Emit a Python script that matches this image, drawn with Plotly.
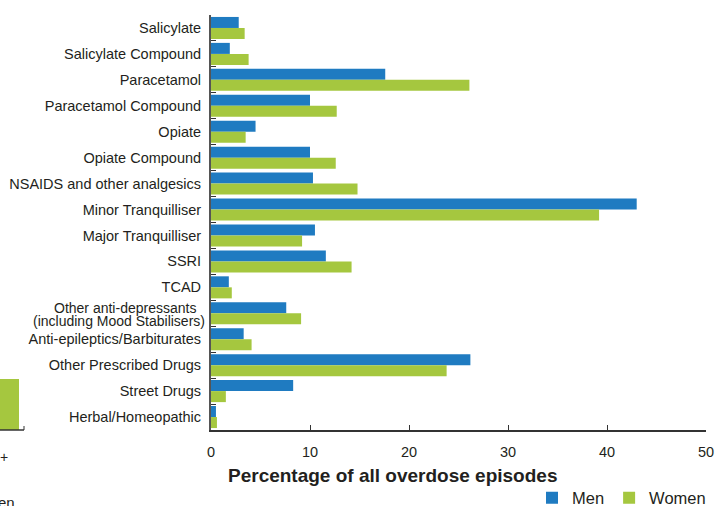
import plotly.graph_objects as go

# Overdose episodes by substance type, split by sex (% of all episodes)
categories = [
    "Salicylate",
    "Salicylate Compound",
    "Paracetamol",
    "Paracetamol Compound",
    "Opiate",
    "Opiate Compound",
    "NSAIDS and other analgesics",
    "Minor Tranquilliser",
    "Major Tranquilliser",
    "SSRI",
    "TCAD",
    "Other anti-depressants (including Mood Stabilisers)",
    "Anti-epileptics/Barbiturates",
    "Other Prescribed Drugs",
    "Street Drugs",
    "Herbal/Homeopathic",
]
men = [2.8, 1.9, 17.6, 10.0, 4.5, 10.0, 10.3, 43.0, 10.5, 11.6, 1.8, 7.6, 3.3, 26.2, 8.3, 0.5]
women = [3.4, 3.8, 26.1, 12.7, 3.5, 12.6, 14.8, 39.2, 9.2, 14.2, 2.1, 9.1, 4.1, 23.8, 1.5, 0.6]
x_ticks = [0, 10, 20, 30, 40, 50]

# the long category is written on two tightly spaced lines
WRAPPED = "Other anti-depressants (including Mood Stabilisers)"
wrapped_lines = ["Other anti-depressants", "(including Mood Stabilisers)"]
tick_text = ["" if c == WRAPPED else c for c in categories]

BLUE = "#1f7bc1"
GREEN = "#a5c73f"
TEXT = "#231f20"

W, H = 716, 506
ML, MR, MT, MB = 211, 10, 15, 76


def px_x(p):
    return (p - ML) / (W - ML - MR)


def px_y(p):
    return 1 - (p - MT) / (H - MT - MB)


fig = go.Figure()
fig.add_trace(go.Bar(y=categories, x=men, name="Men", orientation="h",
                     marker=dict(color=BLUE, line=dict(width=0))))
fig.add_trace(go.Bar(y=categories, x=women, name="Women", orientation="h",
                     marker=dict(color=GREEN, line=dict(width=0))))

fig.update_layout(
    width=W, height=H,
    margin=dict(l=ML, r=MR, t=MT, b=MB, autoexpand=False),
    paper_bgcolor="white", plot_bgcolor="white",
    font=dict(family="Liberation Sans, Arial, sans-serif", color=TEXT, size=14.5),
    barmode="group", bargap=0.15, bargroupgap=0,
    showlegend=True,
    legend=dict(orientation="h", x=px_x(711), xanchor="right", y=px_y(498), yanchor="middle",
                font=dict(size=16.5), itemwidth=30, bgcolor="rgba(0,0,0,0)",
                tracegroupgap=0),
    xaxis=dict(range=[0, 50], tickvals=x_ticks, ticks="inside", ticklen=5,
               tickcolor="#333", showline=True, linecolor="#333", linewidth=2,
               showgrid=False, zeroline=False, tickfont=dict(size=14.5),
               ticklabelstandoff=8),
    yaxis=dict(autorange="reversed", type="category", tickson="boundaries",
               tickmode="array", tickvals=categories, ticktext=tick_text,
               ticks="inside", ticklen=5, tickcolor="#333", showline=True,
               linecolor="#555", linewidth=2, showgrid=False,
               tickfont=dict(size=14.5), ticklabelstandoff=5),
)

for line, right_px, shift in zip(wrapped_lines, [198, 207], [5, -8]):
    fig.add_annotation(text=line, xref="paper", yref="y", x=px_x(right_px), y=WRAPPED,
                       yshift=shift, showarrow=False, xanchor="right", yanchor="middle",
                       font=dict(size=14, color=TEXT))

# x-axis title, set to the left of centre
fig.add_annotation(text="<b>Percentage of all overdose episodes</b>", xref="paper", yref="paper",
                   x=px_x(392), y=px_y(475), showarrow=False, font=dict(size=19, color=TEXT),
                   xanchor="center", yanchor="middle")

# neighbouring panel edge at the far left
fig.add_shape(type="rect", xref="paper", yref="paper", x0=px_x(-2), x1=px_x(19),
              y0=px_y(430), y1=px_y(379), fillcolor=GREEN, line=dict(width=0), layer="above")
fig.add_shape(type="line", xref="paper", yref="paper", x0=px_x(-2), x1=px_x(24),
              y0=px_y(430), y1=px_y(430), line=dict(color="#333", width=1.5))
fig.add_shape(type="line", xref="paper", yref="paper", x0=px_x(24), x1=px_x(24),
              y0=px_y(430), y1=px_y(426), line=dict(color="#333", width=1))
fig.add_annotation(text="+", xref="paper", yref="paper", x=px_x(-2), y=px_y(457),
                   showarrow=False, xanchor="left", yanchor="middle", font=dict(size=14, color=TEXT))
fig.add_annotation(text="en", xref="paper", yref="paper", x=px_x(-4), y=px_y(502),
                   showarrow=False, xanchor="left", yanchor="middle", font=dict(size=15, color=TEXT))

fig.write_html("out.html")
